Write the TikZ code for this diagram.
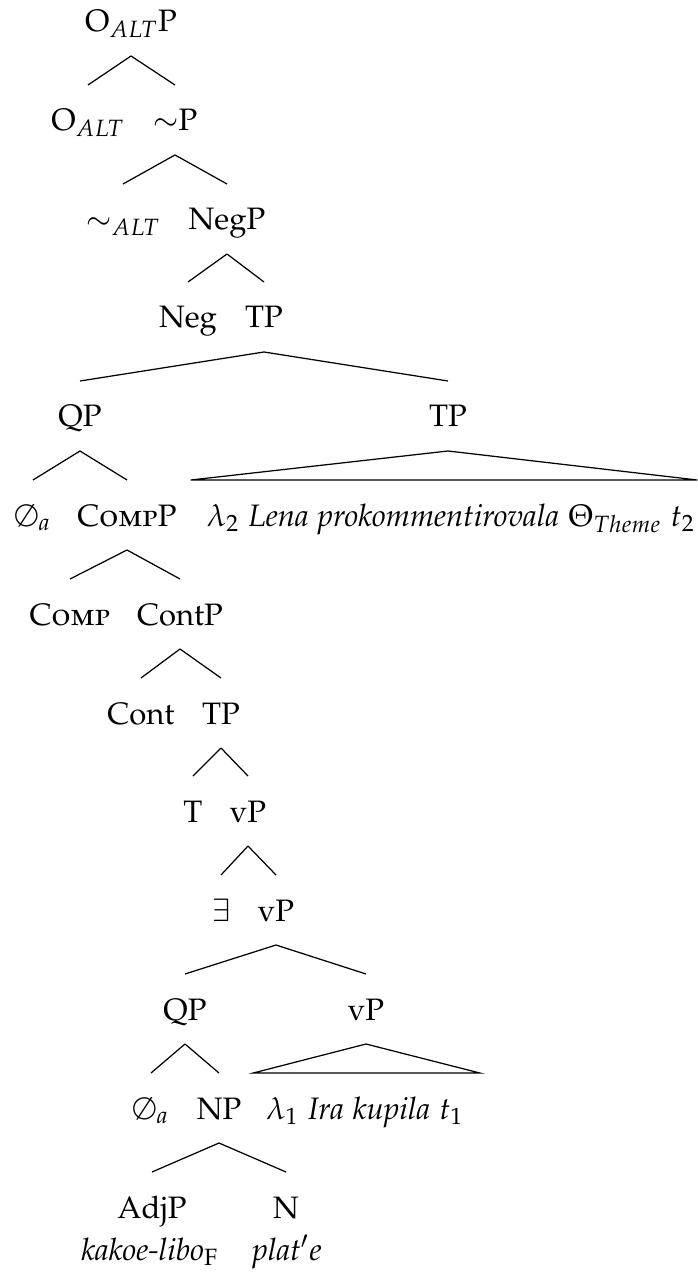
\documentclass[tikz,border=0pt]{standalone}
\usepackage[T1]{fontenc}
\usepackage{amssymb}
\usepackage[sc]{mathpazo}
\usetikzlibrary{calc}
\tikzset{
  lbl/.style={anchor=base, inner sep=0pt, outer sep=0pt},
  br/.style={line width=0.4pt},
}
\newcommand{\branch}[2]{\draw[br] ($(#1.base)+(0,24)$) -- ($(#2.base)+(0,-46)$);}
\begin{document}
\begin{tikzpicture}[x=0.3225pt, y=-0.3225pt]
\useasboundingbox (0,0) rectangle (697,1274);
% row 0
\node[lbl] (r0) at (131,32) {O$_{ALT}$P};
% row 1
\node[lbl] (a1) at (88,131) {O$_{ALT}$};
\node[lbl] (b1) at (175,131) {$\sim$P};
% row 2
\node[lbl] (a2) at (123,230) {$\sim_{ALT}$};
\node[lbl] (b2) at (227,230) {NegP};
% row 3
\node[lbl] (a3) at (188,328) {Neg};
\node[lbl] (b3) at (264,328) {TP};
% row 4
\node[lbl] (a4) at (80,427) {QP};
\node[lbl] (b4) at (448,427) {TP};
% row 5
\node[lbl] (a5) at (33,526) {$\emptyset_a$};
\node[lbl] (b5) at (127,526) {\textsc{Comp}P};
\node[lbl] (c5) at (451,526) {$\lambda_2$ \textit{Lena prokommentirovala} $\Theta_{Theme}$ $t_2$};
% row 6
\node[lbl] (a6) at (70,625) {\textsc{Comp}};
\node[lbl] (b6) at (180,625) {ContP};
% row 7
\node[lbl] (a7) at (141,724) {Cont};
\node[lbl] (b7) at (221,724) {TP};
% row 8
\node[lbl] (a8) at (193,822) {T};
\node[lbl] (b8) at (248,822) {vP};
% row 9
\node[lbl] (a9) at (221,921) {$\exists$};
\node[lbl] (b9) at (276,921) {vP};
% row 10
\node[lbl] (a10) at (185,1020) {QP};
\node[lbl] (b10) at (366,1020) {vP};
% row 11
\node[lbl] (a11) at (151,1119) {$\emptyset_a$};
\node[lbl] (b11) at (219,1119) {NP};
\node[lbl] (c11) at (365,1119) {$\lambda_1$ \textit{Ira kupila} $t_1$};
% row 12
\node[lbl] (a12) at (152,1218) {AdjP};
\node[lbl] (b12) at (286,1218) {N};
% words
\node[lbl] (w12) at (150,1260) {\textit{kakoe-libo}$_{\mathrm{F}}$};
\node[lbl] (w13) at (287,1260) {\textit{plat$'$e}};
% branches
\branch{r0}{a1}\branch{r0}{b1}
\branch{b1}{a2}\branch{b1}{b2}
\branch{b2}{a3}\branch{b2}{b3}
\branch{b3}{a4}\branch{b3}{b4}
\branch{a4}{a5}\branch{a4}{b5}
\branch{b5}{a6}\branch{b5}{b6}
\branch{b6}{a7}\branch{b6}{b7}
\branch{b7}{a8}\branch{b7}{b8}
\branch{b8}{a9}\branch{b8}{b9}
\branch{b9}{a10}\branch{b9}{b10}
\branch{a10}{a11}\branch{a10}{b11}
\branch{b11}{a12}\branch{b11}{b12}
% triangles
\draw[br] ($(b4.base)+(0,24)$) -- ($(c5.base west)+(-16,-46)$) -- ($(c5.base east)+(2,-46)$) -- cycle;
\draw[br] ($(b10.base)+(0,24)$) -- ($(c11.base west)+(-13,-46)$) -- ($(c11.base east)+(16,-46)$) -- cycle;
\end{tikzpicture}
\end{document}
